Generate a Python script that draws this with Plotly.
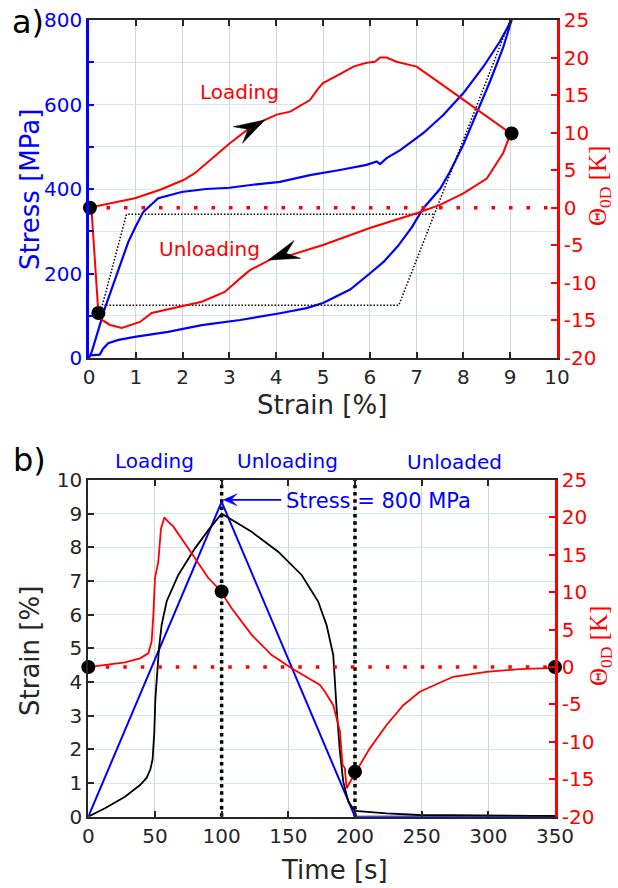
import math
import plotly.graph_objects as go

# ---------------- data: panel a) ----------------
load_strain = [0, 0.06, 0.34, 0.63, 0.84, 1.0, 1.16, 1.48, 1.98, 2.5, 3.0, 3.5, 4.08, 4.72, 5.0,
               5.36, 5.93, 6.15, 6.22, 6.36, 6.65, 7.14, 7.57, 8.0, 8.43, 8.78, 9.03]
load_stress = [0, 15, 118, 212, 275, 312, 346, 378, 393, 400, 403, 410, 417, 433, 438,
               445, 457, 465, 459, 473, 492, 532, 575, 627, 690, 749, 800]

unload_strain = [9.03, 8.85, 8.57, 8.28, 8.0, 7.71, 7.5, 7.14, 6.9, 6.6, 6.3, 6.0, 5.58, 5.0, 4.65,
                 4.08, 3.23, 2.41, 1.69, 0.98, 0.63, 0.41, 0.3, 0.23, 0.02]
unload_stress = [800, 735, 655, 578, 505, 440, 400, 354, 310, 265, 228, 200, 162, 130, 118,
                 106, 90, 78, 62, 50, 43, 35, 22, 8, 6]

temp_strain = [0, 0.51, 0.98, 1.52, 2.02, 2.26, 2.66, 3.01, 3.51, 4.01, 4.3, 4.72, 4.9, 5.0, 5.36,
               5.65, 5.93, 6.11, 6.22, 6.36, 6.57, 7.0, 7.5, 8.0, 8.5, 9.01,
               8.85, 8.5, 8.0, 7.5, 7.0, 6.0, 5.0, 4.87, 4.3, 3.87, 3.44, 3.23, 2.9, 2.41,
               1.77, 1.34, 1.09, 0.7, 0.45, 0.27, 0.2, 0.05]
temp_K = [0, 0.66, 1.27, 2.4, 3.7, 4.6, 6.8, 8.6, 11.0, 12.4, 12.8, 14.35, 15.9, 16.6, 17.8,
          18.8, 19.3, 19.45, 20.0, 20.0, 19.45, 18.8, 16.6, 14.35, 12.1, 9.9,
          7.3, 3.9, 1.93, 0.38, -0.73, -2.7, -4.95, -5.2, -6.3, -6.9, -8.3, -9.4, -11.2, -12.5,
          -13.4, -14.0, -15.2, -16.0, -15.6, -14.9, -14.0, 0.1]

model_strain = [0.25, 0.8, 7.39, None, 9.0, 6.62, 0.32]
model_stress = [110, 340, 340, None, 800, 125, 125]

a_dot_strain = [0.02, 0.2, 9.03]
a_dot_K = [0, -14.0, 9.9]

# direction markers on the temperature curve: (strain, K) at tip
dir_strain = [3.76, 3.83]
dir_K = [11.7, -6.95]

# ---------------- data: panel b) ----------------
stress_t = [0, 100, 200, 350]
stress_scaled = [0, 9.35, 0, 0.02]

strain_t = [0, 12.5, 27.5, 38.8, 43.7, 46.5, 48.2, 49.5, 50.3, 51.5, 53, 55, 58.8, 67.5, 80, 90, 100,
            122.5, 142.4, 160, 172.4, 178.7, 183.7, 186.2, 188.7, 191.2, 195, 200, 223.7, 248.6,
            298.6, 350]
strain_v = [0, 0.25, 0.59, 0.94, 1.15, 1.4, 1.7, 2.5, 3.5, 4.3, 5.0, 5.7, 6.4, 7.18, 7.97, 8.51, 9.0,
            8.46, 7.87, 7.18, 6.39, 5.69, 4.8, 3.22, 1.93, 1.04, 0.45, 0.17, 0.1, 0.05,
            0.04, 0.02]

temp_t = [0, 12.5, 27.5, 38.8, 45, 47.5, 48.8, 50, 52.5, 54.5, 57, 60, 63.7, 77.5, 90, 98.7, 107.5,
          122.5, 137.5, 152.5, 173.7, 177.5, 183.7, 188.7, 190.7, 192.4, 193.7, 200, 211, 223.7,
          236.2, 248.6, 273.6, 298.6, 323.6, 350]
temp_b = [0, 0.27, 0.63, 1.16, 1.83, 3.4, 7.0, 11.9, 14.1, 18.5, 20, 19.4, 18.8, 15.2, 11.9, 10.3,
          7.85, 4.3, 1.6, -0.17, -2.4, -3.3, -5.1, -8.6, -13.1, -13.5, -16.2, -14.2, -10.9, -7.75,
          -5.1, -3.3, -1.3, -0.63, -0.27, -0.1]

b_dot_t = [0, 100, 200, 350]
b_dot_K = [0, 10.1, -14.0, 0]

stage_t = [100, 200]
peak_t, peak_strain = 101.2, 9.41

# tick values / labels
a_x_ticks = list(range(0, 11))
a_stress_ticks = list(range(0, 801, 200))
K_ticks = list(range(-20, 26, 5))
K_text = [str(v) for v in K_ticks]
b_t_ticks = list(range(0, 351, 50))
b_strain_ticks = list(range(0, 11))

# ---------------- styling ----------------
W, H = 618, 888
BLUE = "#0000FF"
RED = "#FF0000"
DARK = "#262626"
FONT = "DejaVu Sans"
SERIF = "Liberation Serif"
HGRID = "rgb(214,228,244)"
VGRID = "rgb(212,212,212)"


def px(x):
    return x / W


def py(y):
    return 1 - y / H


fig = go.Figure()

# panel a
fig.add_trace(go.Scatter(x=load_strain, y=load_stress, mode="lines",
                         line=dict(color=BLUE, width=2.2), xaxis="x", yaxis="y"))
fig.add_trace(go.Scatter(x=unload_strain, y=unload_stress, mode="lines",
                         line=dict(color=BLUE, width=2.2), xaxis="x", yaxis="y"))
fig.add_trace(go.Scatter(x=model_strain, y=model_stress, mode="lines",
                         line=dict(color="black", width=1.5, dash="1.5px,1.8px"),
                         xaxis="x", yaxis="y", connectgaps=False))
fig.add_trace(go.Scatter(x=[0, 10], y=[0, 0], mode="lines",
                         line=dict(color=RED, width=3.5, dash="3.5px,14px"),
                         xaxis="x", yaxis="y2"))
fig.add_trace(go.Scatter(x=temp_strain, y=temp_K, mode="lines",
                         line=dict(color=RED, width=2), xaxis="x", yaxis="y2"))
fig.add_trace(go.Scatter(x=a_dot_strain, y=a_dot_K, mode="markers",
                         marker=dict(color="black", size=14), xaxis="x", yaxis="y2",
                         cliponaxis=False))

# panel b
for t in stage_t:
    fig.add_trace(go.Scatter(x=[t, t], y=[0, 10], mode="lines",
                             line=dict(color="black", width=3.5, dash="3.5px,3.8px"),
                             xaxis="x2", yaxis="y3"))
fig.add_trace(go.Scatter(x=[0, 350], y=[0, 0], mode="lines",
                         line=dict(color=RED, width=3.5, dash="3.5px,14px"),
                         xaxis="x2", yaxis="y4"))
fig.add_trace(go.Scatter(x=stress_t, y=stress_scaled, mode="lines",
                         line=dict(color=BLUE, width=2), xaxis="x2", yaxis="y3"))
fig.add_trace(go.Scatter(x=strain_t, y=strain_v, mode="lines",
                         line=dict(color="black", width=1.8), xaxis="x2", yaxis="y3"))
fig.add_trace(go.Scatter(x=temp_t, y=temp_b, mode="lines",
                         line=dict(color=RED, width=1.8), xaxis="x2", yaxis="y4"))
fig.add_trace(go.Scatter(x=b_dot_t, y=b_dot_K, mode="markers",
                         marker=dict(color="black", size=14), xaxis="x2", yaxis="y4",
                         cliponaxis=False))

tickfont = dict(family=FONT, size=20, color=DARK)
common_x = dict(showline=True, linecolor=DARK, linewidth=2, mirror="ticks", ticks="inside",
                ticklen=6, tickwidth=1.5, tickcolor=DARK, zeroline=False, showgrid=True,
                gridcolor=VGRID, gridwidth=1, tickfont=tickfont, automargin=False)
right_K = dict(range=[-20, 25], side="right", tickvals=K_ticks, ticktext=K_text,
               showline=True, linecolor=RED, linewidth=2.5, ticks="inside", ticklen=6,
               tickcolor=RED, tickwidth=1.5, zeroline=False, showgrid=False,
               tickfont=dict(family=FONT, size=20, color=RED), automargin=False)

fig.update_layout(
    width=W, height=H, margin=dict(l=0, r=0, t=0, b=0, autoexpand=False),
    paper_bgcolor="white", plot_bgcolor="white", showlegend=False,
    font=dict(family=FONT, size=20, color=DARK),
    xaxis=dict(domain=[px(89), px(557)], range=[0, 10], anchor="y",
               tickvals=a_x_ticks, **common_x),
    yaxis=dict(domain=[py(358), py(20)], range=[0, 800], anchor="x",
               tickvals=a_stress_ticks,
               showline=True, linecolor=BLUE, linewidth=2.5, ticks="inside", ticklen=5,
               tickcolor=BLUE, tickwidth=1.5, zeroline=False, showgrid=True, gridcolor=HGRID,
               gridwidth=1, tickfont=dict(family=FONT, size=20, color=BLUE), automargin=False,
               minor=dict(dtick=100, ticks="inside", ticklen=5, tickcolor=BLUE, tickwidth=1.5,
                          showgrid=True, gridcolor=HGRID, gridwidth=1)),
    yaxis2=dict(overlaying="y", anchor="x", **right_K),
    xaxis2=dict(domain=[px(88.3), px(555)], range=[0, 350], anchor="y3",
                tickvals=b_t_ticks, **common_x),
    yaxis3=dict(domain=[py(816.7), py(480)], range=[0, 10], anchor="x2",
                tickvals=b_strain_ticks, showline=True, linecolor=DARK, linewidth=2,
                ticks="inside", ticklen=6, tickcolor=DARK, tickwidth=1.5, zeroline=False,
                showgrid=True, gridcolor=HGRID, gridwidth=1, tickfont=tickfont,
                automargin=False),
    yaxis4=dict(overlaying="y3", anchor="x2", **right_K),
)


def label(text, x, y, size=20, color=DARK, angle=0, xanchor="center", family=FONT):
    fig.add_annotation(text=text, x=px(x), y=py(y), xref="paper", yref="paper",
                       showarrow=False, textangle=angle, xanchor=xanchor, yanchor="middle",
                       font=dict(family=family, size=size, color=color))


label("a)", 28, 22, size=32, color="black")
label("b)", 29, 460, size=32, color="black")
label("Stress [MPa]", 30, 190, size=26, color=BLUE, angle=-90)
label("Θ<sub>0D</sub> [K]", 600, 186, size=25, color=RED, angle=-90, family=SERIF)
label("Strain [%]", 322, 405, size=26)
label("Strain [%]", 30, 651, size=26, angle=-90)
label("Θ<sub>0D</sub> [K]", 600, 646, size=25, color=RED, angle=-90, family=SERIF)
label("Time [s]", 334, 870, size=26)
label("Loading", 239, 92, color=RED)
label("Unloading", 209, 249, color=RED)
label("Loading", 154, 461, color=BLUE)
label("Unloading", 287, 461, color=BLUE)
label("Unloaded", 454, 462, color=BLUE)
label("Stress = 800 MPa", 284, 501, size=21, color=BLUE, xanchor="left")


# stealth-style arrowheads (pixel-sized shapes anchored at the data points)
def stealth(dx, dy, length=31, half=9.5, notch=0.62):
    a = math.atan2(dy, dx)
    ca, sa = math.cos(a), math.sin(a)

    def rot(u, v):
        return u * ca - v * sa, u * sa + v * ca
    pts = [rot(0, 0), rot(-length, half), rot(-notch * length, 0), rot(-length, -half)]
    return "M " + " L ".join(f"{u:.2f},{v:.2f}" for u, v in pts) + " Z"


dir_vectors = [(27, 15), (-27.5, -10)]
for xs, ks, (dx, dy) in zip(dir_strain, dir_K, dir_vectors):
    fig.add_shape(type="path", xref="x", yref="y2", xsizemode="pixel", ysizemode="pixel",
                  xanchor=xs, yanchor=ks, path=stealth(dx, dy),
                  fillcolor="black", line=dict(color="black", width=0.5))

# stress peak pointer (panel b): shaft + head, sized in pixels from the peak
fig.add_shape(type="line", xref="x2", yref="y3", xsizemode="pixel", ysizemode="pixel",
              xanchor=peak_t, yanchor=peak_strain, x0=8, y0=0, x1=58, y1=0,
              line=dict(color=BLUE, width=1.8))
fig.add_shape(type="path", xref="x2", yref="y3", xsizemode="pixel", ysizemode="pixel",
              xanchor=peak_t, yanchor=peak_strain,
              path=stealth(-1, 0, length=14, half=6, notch=0.55),
              fillcolor=BLUE, line=dict(color=BLUE, width=0.5))

fig.write_html("out.html", config={"displayModeBar": False},
               post_script="document.body.style.margin='0px';")
